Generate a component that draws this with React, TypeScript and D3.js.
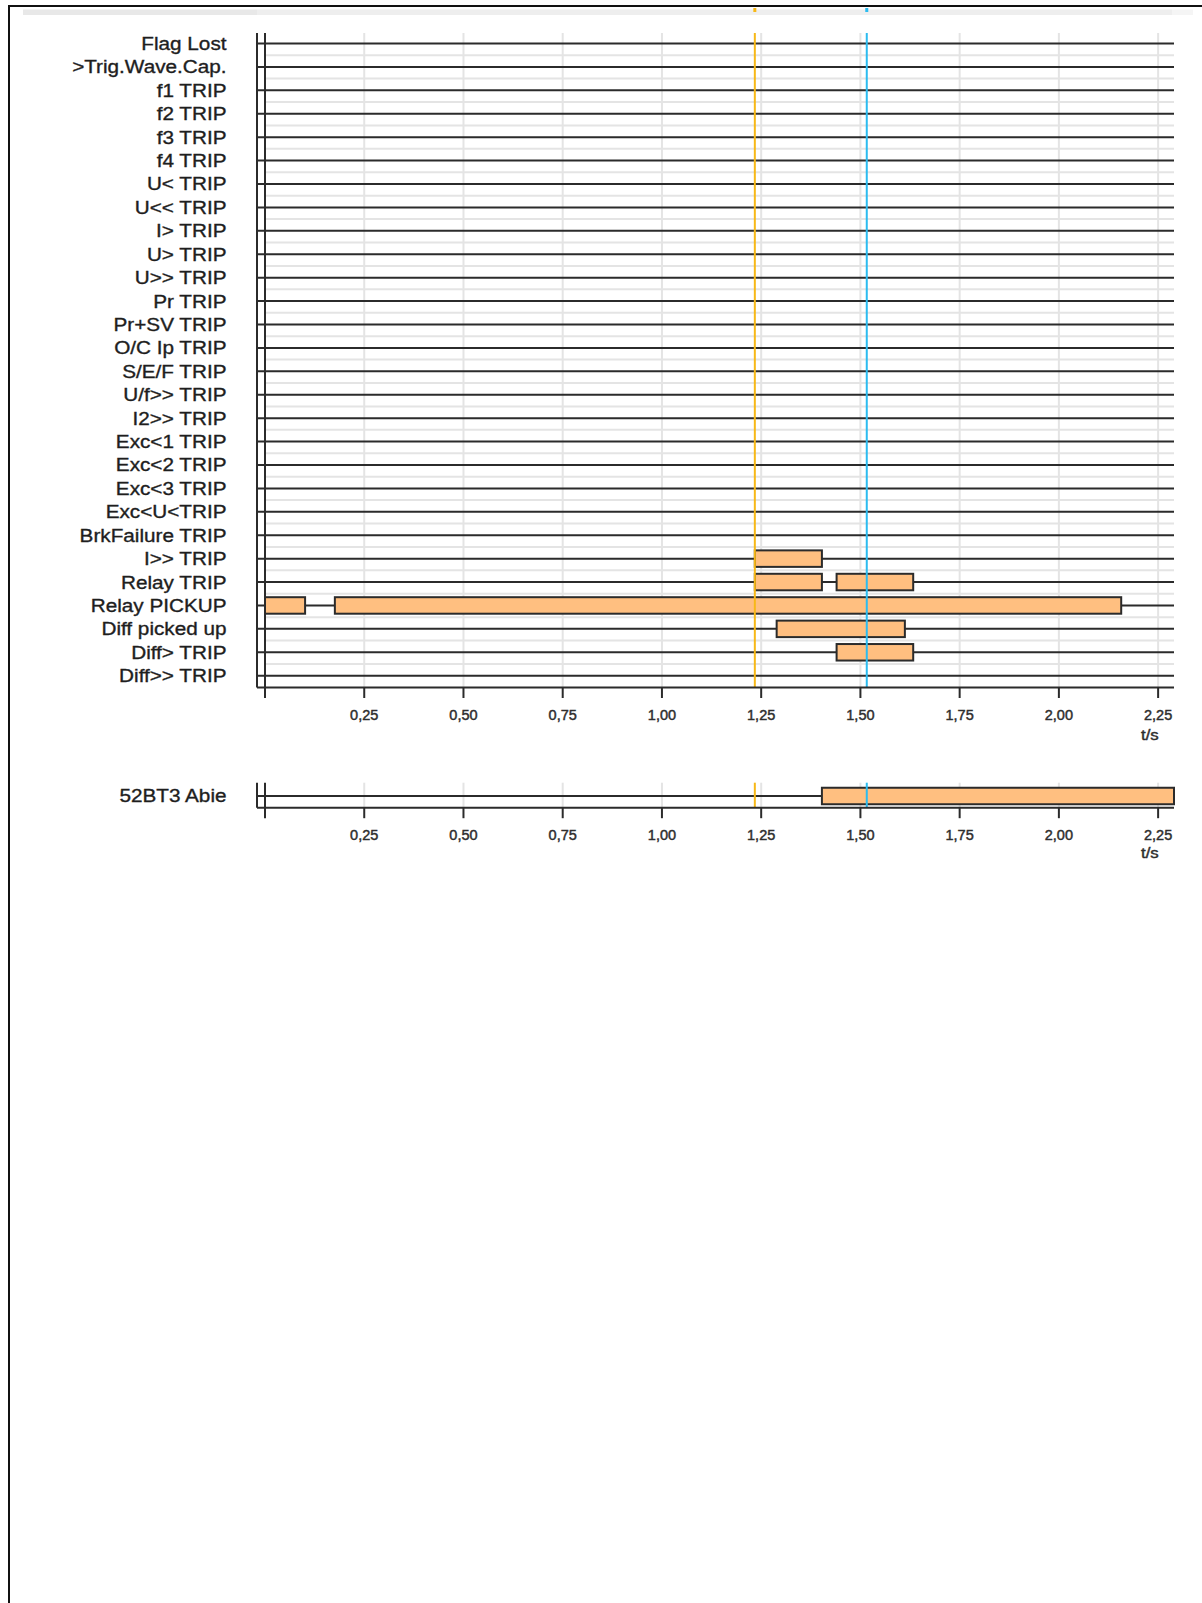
import React from "react";
import * as d3 from "d3";

// ---- data ----
const signalLabels = [
  "Flag Lost", ">Trig.Wave.Cap.", "f1 TRIP", "f2 TRIP", "f3 TRIP", "f4 TRIP",
  "U< TRIP", "U<< TRIP", "I> TRIP", "U> TRIP", "U>> TRIP", "Pr TRIP",
  "Pr+SV TRIP", "O/C Ip TRIP", "S/E/F TRIP", "U/f>> TRIP", "I2>> TRIP",
  "Exc<1 TRIP", "Exc<2 TRIP", "Exc<3 TRIP", "Exc<U<TRIP", "BrkFailure TRIP",
  "I>> TRIP", "Relay TRIP", "Relay PICKUP", "Diff picked up", "Diff> TRIP", "Diff>> TRIP",
];
const barSignal = ["I>> TRIP", "Relay TRIP", "Relay TRIP", "Relay PICKUP", "Relay PICKUP", "Diff picked up", "Diff> TRIP"];
const barStart = [1.234, 1.234, 1.44, 0.0, 0.176, 1.289, 1.44];
const barEnd = [1.403, 1.403, 1.633, 0.101, 2.157, 1.612, 1.633];

const breakerLabels = ["52BT3 Abie"];
const breakerStart = [1.403];
const breakerEnd = [2.29];

const tickValues = [0.25, 0.5, 0.75, 1.0, 1.25, 1.5, 1.75, 2.0, 2.25];
const tickLabels = ["0,25", "0,50", "0,75", "1,00", "1,25", "1,50", "1,75", "2,00", "2,25"];
const timeDomain = [0, 2.29];
const axisUnit = "t/s";

const cursorTimes = [1.234, 1.516];
const cursorColors = ["#f7b817", "#2bbcf0"];

// ---- layout ----
const W = 1202;
const H = 1603;
const FONT = "'Liberation Sans', Arial, Helvetica, sans-serif";
const LINE = "#2b2b2b";
const GRID = "#e4e4e4";
const BAR_FILL = "#ffbf80";
const LABEL_SCALE = 1.12;
const LABEL_RIGHT = 226.5;
const OUTER_X = 257;

export default function App() {
  const x = d3.scaleLinear().domain(timeDomain).range([265, 1174]);
  const y = d3.scalePoint<string>().domain(signalLabels).range([43.5, 675.7]);
  const step = y.step();
  const top1 = 33;
  const axis1 = 687.5;
  const barH = 16.5;

  const y2 = d3.scalePoint<string>().domain(breakerLabels).range([796, 796]);
  const top2 = 782.7;
  const axis2 = 807.7;

  const x0 = x(0);
  const xEnd = x(timeDomain[1]);

  const renderAxis = (axisY: number, labelY: number, unitY: number, key: string) => (
    <g key={key}>
      <line x1={OUTER_X} x2={xEnd} y1={axisY} y2={axisY} stroke={LINE} strokeWidth={2} />
      {tickValues.map((t) => (
        <line key={"t" + t} x1={x(t)} x2={x(t)} y1={axisY} y2={axisY + 10.5} stroke={LINE} strokeWidth={2} />
      ))}
      {tickValues.map((t, i) => (
        <text key={"l" + t} x={x(t)} y={labelY} textAnchor="middle" fontFamily={FONT} fontSize={14.5} fill="#2e2e2e" stroke="#2e2e2e" strokeWidth={0.45}>
          {tickLabels[i]}
        </text>
      ))}
      <g transform={`scale(${LABEL_SCALE},1)`}>
        <text x={1141 / LABEL_SCALE} y={unitY} fontFamily={FONT} fontSize={15} fill="#2e2e2e" stroke="#2e2e2e" strokeWidth={0.45}>
          {axisUnit}
        </text>
      </g>
    </g>
  );

  return (
    <svg width={W} height={H} style={{ position: "absolute", left: 0, top: 0, background: "#fff" }}>
      <rect x={0} y={0} width={W} height={H} fill="#fff" />
      {/* frame */}
      <line x1={9} x2={9} y1={5} y2={H} stroke="#111" strokeWidth={2} />
      <line x1={8} x2={W} y1={6} y2={6} stroke="#111" strokeWidth={2} />
      <rect x={23} y={9.5} width={234} height={5.5} fill="#e8e8e8" />
      <rect x={257} y={9.5} width={915} height={5.5} fill="#eeeeee" />
      <rect x={1172} y={9.5} width={21} height={5.5} fill="#f5f5f5" />
      {cursorTimes.map((t, i) => (
        <rect key={"cm" + i} x={x(t) - 1.5} y={8} width={3} height={4} fill={cursorColors[i]} />
      ))}

      {/* ===== upper chart ===== */}
      {tickValues.map((t) => (
        <line key={"vg" + t} x1={x(t)} x2={x(t)} y1={top1} y2={axis1} stroke={GRID} strokeWidth={2} />
      ))}
      {signalLabels.slice(1).map((s) => (
        <line key={"hg" + s} x1={x0} x2={xEnd} y1={(y(s) as number) - step / 2} y2={(y(s) as number) - step / 2} stroke={GRID} strokeWidth={2} />
      ))}
      {signalLabels.map((s) => (
        <line key={"sl" + s} x1={OUTER_X} x2={xEnd} y1={y(s)} y2={y(s)} stroke={LINE} strokeWidth={2} />
      ))}
      {barSignal.map((s, i) => (
        <rect
          key={"b" + i}
          x={x(barStart[i])}
          y={(y(s) as number) - barH / 2}
          width={x(barEnd[i]) - x(barStart[i])}
          height={barH}
          fill={BAR_FILL}
          stroke={LINE}
          strokeWidth={2}
        />
      ))}
      {cursorTimes.map((t, i) => (
        <line key={"c1" + i} x1={x(t)} x2={x(t)} y1={top1} y2={axis1} stroke={cursorColors[i]} strokeWidth={2} />
      ))}
      <line x1={OUTER_X} x2={OUTER_X} y1={top1} y2={axis1} stroke={LINE} strokeWidth={2} />
      <line x1={x0} x2={x0} y1={top1} y2={axis1 + 10.5} stroke={LINE} strokeWidth={2} />
      <g transform={`scale(${LABEL_SCALE},1)`}>
        {signalLabels.map((s) => (
          <text key={"tx" + s} x={LABEL_RIGHT / LABEL_SCALE} y={y(s)} dy="0.35em" textAnchor="end" fontFamily={FONT} fontSize={18.5} fill="#1e1e1e" stroke="#1e1e1e" strokeWidth={0.35}>
            {s}
          </text>
        ))}
      </g>
      {renderAxis(axis1, 720, 740, "ax1")}

      {/* ===== lower chart ===== */}
      {tickValues.map((t) => (
        <line key={"vg2" + t} x1={x(t)} x2={x(t)} y1={top2} y2={axis2} stroke={GRID} strokeWidth={2} />
      ))}
      {breakerLabels.map((s) => (
        <line key={"sl2" + s} x1={OUTER_X} x2={xEnd} y1={y2(s)} y2={y2(s)} stroke={LINE} strokeWidth={2} />
      ))}
      {breakerLabels.map((s, i) => (
        <rect
          key={"b2" + i}
          x={x(breakerStart[i])}
          y={(y2(s) as number) - barH / 2}
          width={x(breakerEnd[i]) - x(breakerStart[i])}
          height={barH}
          fill={BAR_FILL}
          stroke={LINE}
          strokeWidth={2}
        />
      ))}
      {cursorTimes.map((t, i) => (
        <line key={"c2" + i} x1={x(t)} x2={x(t)} y1={top2} y2={axis2} stroke={cursorColors[i]} strokeWidth={2} />
      ))}
      <line x1={OUTER_X} x2={OUTER_X} y1={top2} y2={axis2} stroke={LINE} strokeWidth={2} />
      <line x1={x0} x2={x0} y1={top2} y2={axis2 + 10.5} stroke={LINE} strokeWidth={2} />
      <g transform={`scale(${LABEL_SCALE},1)`}>
        {breakerLabels.map((s) => (
          <text key={"tx2" + s} x={LABEL_RIGHT / LABEL_SCALE} y={y2(s)} dy="0.35em" textAnchor="end" fontFamily={FONT} fontSize={18.5} fill="#1e1e1e" stroke="#1e1e1e" strokeWidth={0.35}>
            {s}
          </text>
        ))}
      </g>
      {renderAxis(axis2, 840, 858, "ax2")}
    </svg>
  );
}
